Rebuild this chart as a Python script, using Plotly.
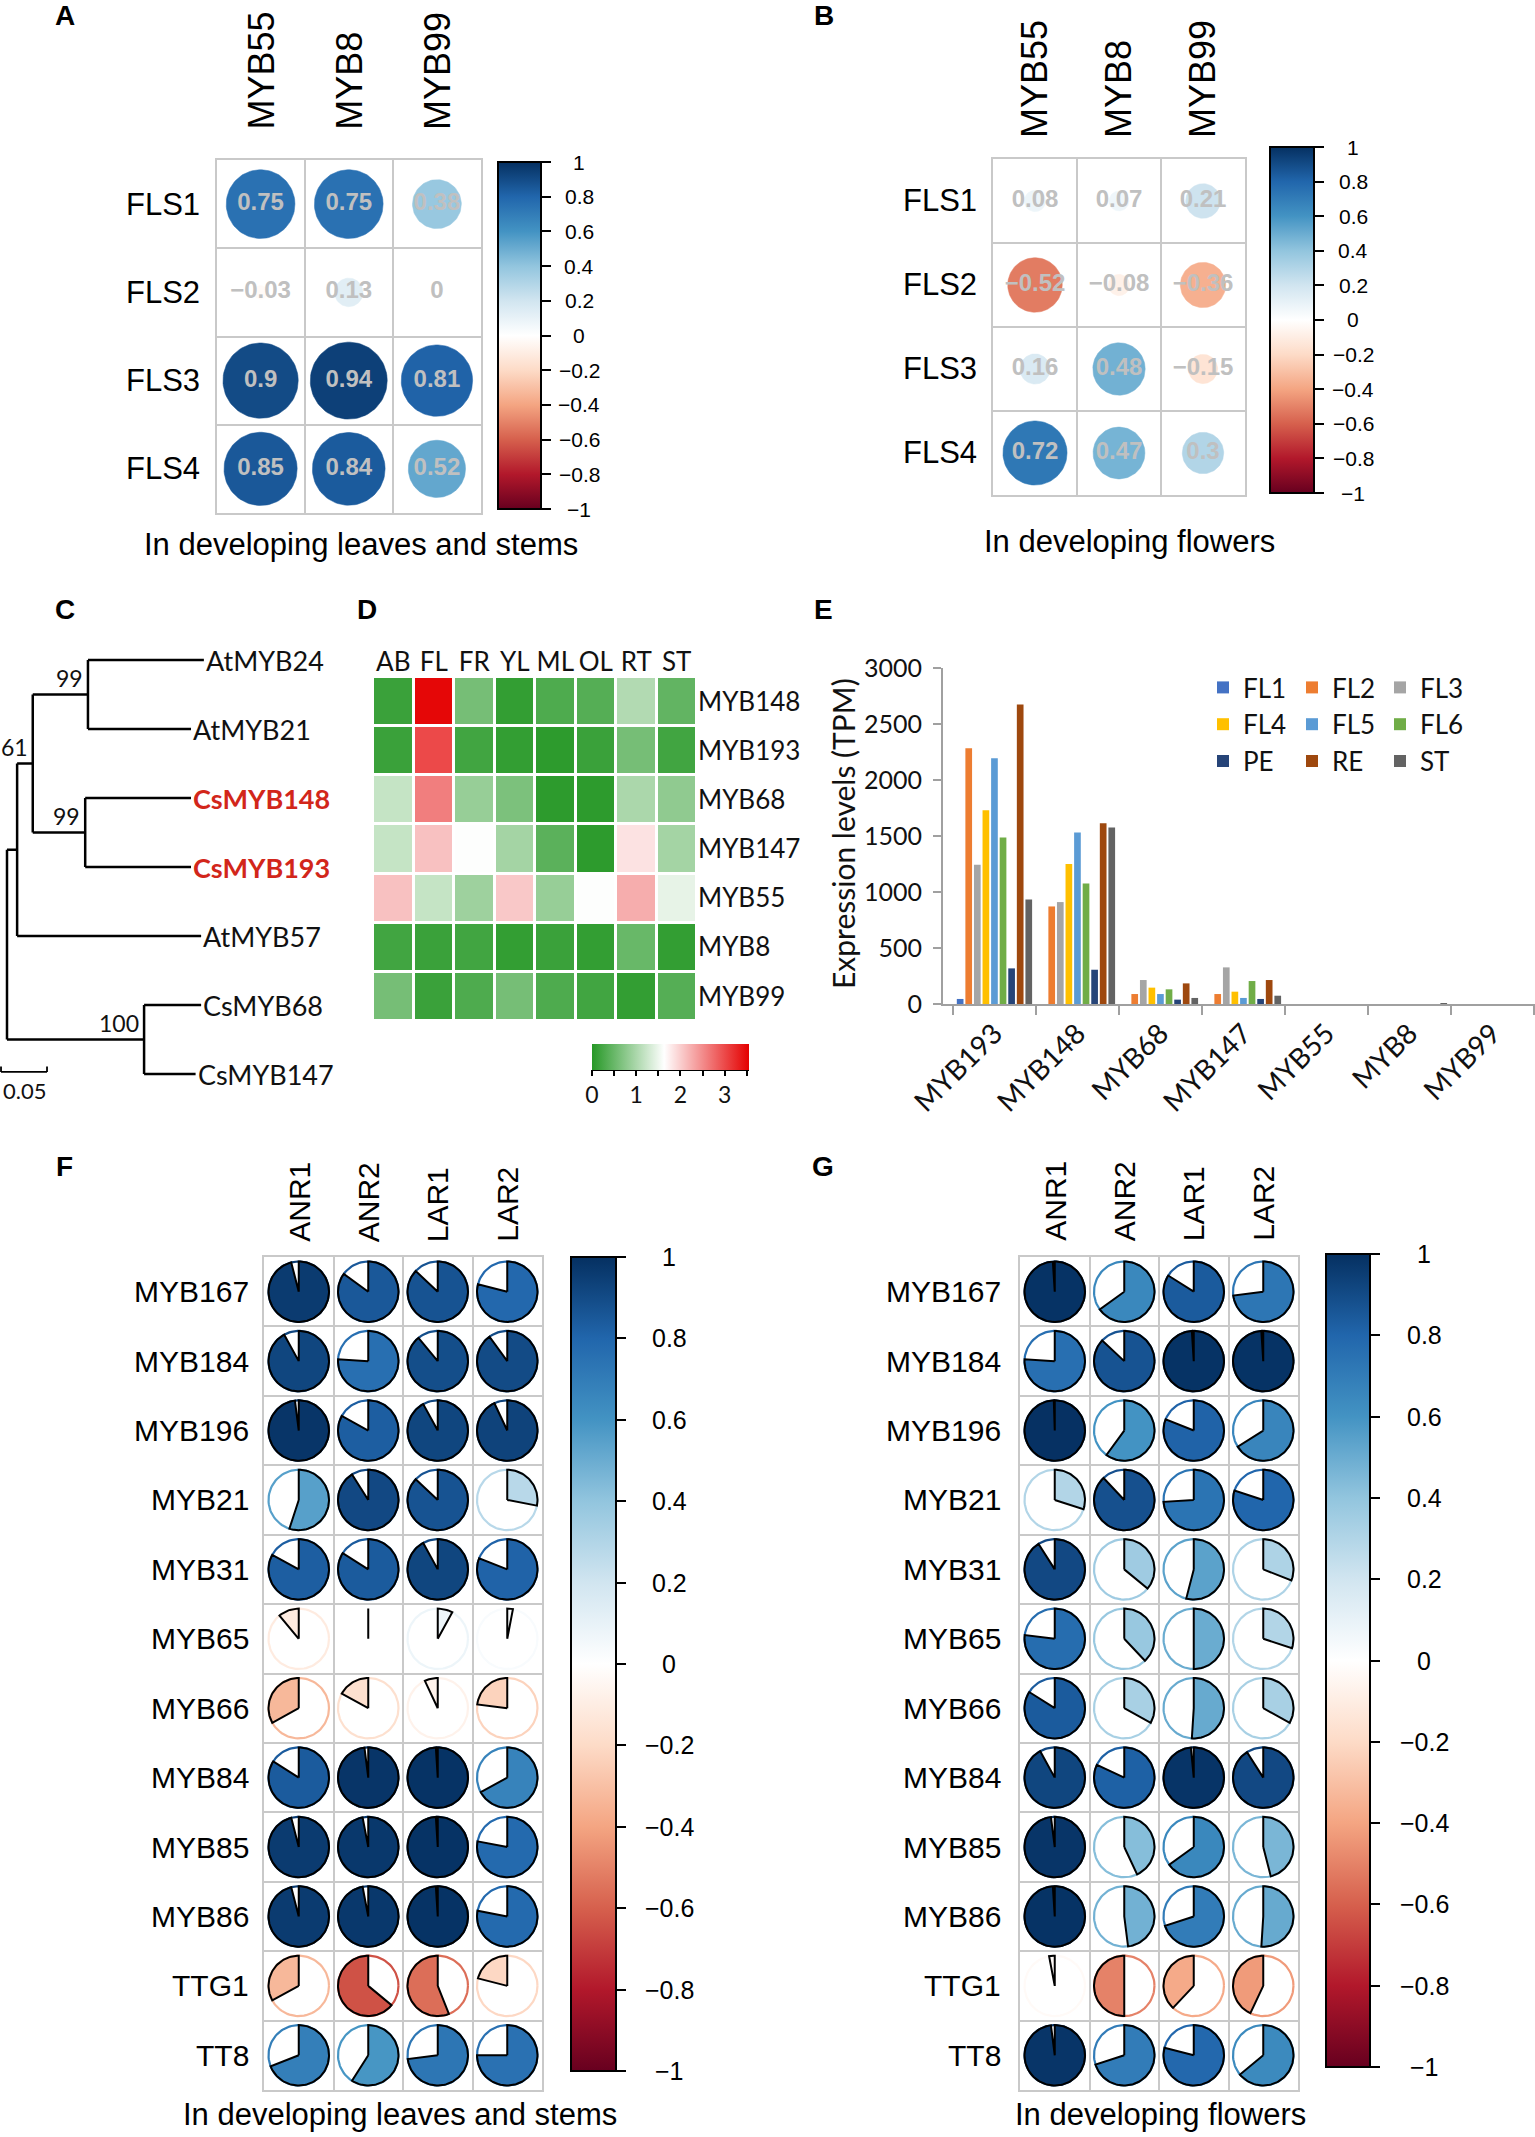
import numpy as np
import plotly.graph_objects as go

W, H = 1535, 2137

# ======================= DATA =======================
# Panels A / B : FLS vs MYB correlations
fls_genes = ["FLS1", "FLS2", "FLS3", "FLS4"]
myb_fls = ["MYB55", "MYB8", "MYB99"]
corr_leaf_fls = [
    [0.75, 0.75, 0.38],
    [-0.03, 0.13, 0.00],
    [0.90, 0.94, 0.81],
    [0.85, 0.84, 0.52],
]
corr_flower_fls = [
    [0.08, 0.07, 0.21],
    [-0.52, -0.08, -0.36],
    [0.16, 0.48, -0.15],
    [0.72, 0.47, 0.30],
]
title_leaf = "In developing leaves and stems"
title_flower = "In developing flowers"
corr_ticks = [-1, -0.8, -0.6, -0.4, -0.2, 0, 0.2, 0.4, 0.6, 0.8, 1]

# Panel C : phylogenetic tree
leaf_names = ["AtMYB24", "AtMYB21", "CsMYB148", "CsMYB193", "AtMYB57", "CsMYB68", "CsMYB147"]
leaf_depth = [0.214, 0.200, 0.200, 0.200, 0.211, 0.211, 0.205]
node_names = ["n3", "n4", "n2", "n1", "n5", "root"]
node_depth = [0.088, 0.085, 0.028, 0.011, 0.149, 0.0]
node_children = [["AtMYB24", "AtMYB21"], ["CsMYB148", "CsMYB193"], ["n3", "n4"],
                 ["n2", "AtMYB57"], ["CsMYB68", "CsMYB147"], ["n1", "n5"]]
node_support = ["99", "99", "61", "", "100", ""]
scale_bar_len = 0.05
scale_bar_label = "0.05"

# Panel D : expression heatmap
tissues = ["AB", "FL", "FR", "YL", "ML", "OL", "RT", "ST"]
genes_D = ["MYB148", "MYB193", "MYB68", "MYB147", "MYB55", "MYB8", "MYB99"]
expr_D = [
    [0.15, 3.50, 0.60, 0.10, 0.30, 0.35, 1.05, 0.45],
    [0.15, 3.00, 0.20, 0.10, 0.05, 0.15, 0.60, 0.20],
    [1.20, 2.60, 0.85, 0.65, 0.05, 0.05, 1.00, 0.80],
    [1.20, 2.10, 1.62, 0.95, 0.40, 0.05, 1.85, 0.95],
    [2.10, 1.20, 0.90, 2.05, 0.85, 1.62, 2.25, 1.45],
    [0.20, 0.15, 0.20, 0.10, 0.15, 0.10, 0.50, 0.10],
    [0.60, 0.15, 0.30, 0.60, 0.30, 0.20, 0.10, 0.35],
]
expr_ticks = [0, 0.5, 1, 1.5, 2, 2.5, 3, 3.5]
expr_tick_text = ["0", "", "1", "", "2", "", "3", ""]

# Panel E : expression bars (TPM)
bar_genes = ["MYB193", "MYB148", "MYB68", "MYB147", "MYB55", "MYB8", "MYB99"]
series_names = ["FL1", "FL2", "FL3", "FL4", "FL5", "FL6", "PE", "RE", "ST"]
tpm_FL1 = [45, 0, 0, 0, 0, 0, 0]
tpm_FL2 = [2283, 871, 89, 89, 0, 0, 0]
tpm_FL3 = [1243, 910, 214, 327, 0, 0, 0]
tpm_FL4 = [1730, 1249, 146, 110, 0, 0, 0]
tpm_FL5 = [2194, 1531, 89, 54, 0, 0, 0]
tpm_FL6 = [1486, 1076, 131, 205, 0, 0, 0]
tpm_PE = [318, 306, 39, 45, 0, 0, 0]
tpm_RE = [2675, 1614, 184, 214, 0, 0, 0]
tpm_ST = [933, 1575, 54, 74, 0, 8, 0]
tpm_series = [tpm_FL1, tpm_FL2, tpm_FL3, tpm_FL4, tpm_FL5, tpm_FL6, tpm_PE, tpm_RE, tpm_ST]
tpm_ticks = [0, 500, 1000, 1500, 2000, 2500, 3000]
tpm_title = "Expression levels (TPM)"

# Panels F / G : PA genes vs regulators
pa_genes = ["ANR1", "ANR2", "LAR1", "LAR2"]
reg_genes = ["MYB167", "MYB184", "MYB196", "MYB21", "MYB31", "MYB65",
             "MYB66", "MYB84", "MYB85", "MYB86", "TTG1", "TT8"]
corr_leaf_pa = [
    [0.96, 0.85, 0.87, 0.79],
    [0.92, 0.76, 0.89, 0.90],
    [0.98, 0.83, 0.92, 0.93],
    [0.55, 0.91, 0.87, 0.28],
    [0.83, 0.84, 0.92, 0.81],
    [-0.11, 0.00, 0.08, 0.03],
    [-0.33, -0.17, -0.07, -0.23],
    [0.84, 0.98, 0.99, 0.67],
    [0.96, 0.97, 0.99, 0.78],
    [0.96, 0.97, 0.99, 0.78],
    [-0.33, -0.64, -0.56, -0.21],
    [0.69, 0.59, 0.73, 0.75],
]
corr_flower_pa = [
    [0.99, 0.65, 0.84, 0.73],
    [0.76, 0.87, 0.99, 0.99],
    [0.995, 0.60, 0.81, 0.66],
    [0.30, 0.88, 0.74, 0.80],
    [0.91, 0.36, 0.54, 0.31],
    [0.77, 0.38, 0.50, 0.30],
    [0.84, 0.33, 0.51, 0.33],
    [0.92, 0.82, 0.985, 0.91],
    [0.98, 0.43, 0.65, 0.46],
    [0.99, 0.48, 0.70, 0.51],
    [-0.03, -0.50, -0.38, -0.43],
    [0.98, 0.70, 0.79, 0.64],
]

# ======================= STYLE =======================
ARIAL = "Liberation Sans, Arial, sans-serif"
CAL = "Lato, Carlito, Calibri, sans-serif"
GRID = "#c9c9c9"
RDBU = ["#67001F", "#B2182B", "#D6604D", "#F4A582", "#FDDBC7", "#FFFFFF",
        "#D1E5F0", "#92C5DE", "#4393C3", "#2166AC", "#053061"]
rdbu_scale = [[k / 10, c] for k, c in enumerate(RDBU)]
green_red = [[0, "rgb(38,152,38)"], [0.46, "rgb(255,255,255)"], [1, "rgb(228,0,0)"]]
bar_colors = ["#4472C4", "#ED7D31", "#A5A5A5", "#FFC000", "#5B9BD5",
              "#70AD47", "#264478", "#9E480E", "#636363"]
bar_legend = ["legend", "legend2", "legend3", "legend", "legend2",
              "legend3", "legend", "legend2", "legend3"]
highlight_leaves = {"CsMYB148", "CsMYB193"}


def px(x):
    return x / W


def py(y):
    return 1 - y / H


def hex2rgb(h):
    return tuple(int(h[i:i + 2], 16) for i in (1, 3, 5))


def corr_color(v):
    t = (max(-1.0, min(1.0, v)) + 1) / 2 * 10
    k = min(int(np.floor(t)), 9)
    f = t - k
    a, b = hex2rgb(RDBU[k]), hex2rgb(RDBU[k + 1])
    c = [round(a[i] + (b[i] - a[i]) * f) for i in range(3)]
    return f"rgb({c[0]},{c[1]},{c[2]})"


def fmt(v):
    return f"{v:g}".replace("-", "\u2212")


fig = go.Figure()
ann = []
theta = np.linspace(0, 2 * np.pi, 91)


def add_text(x, y, s, size, family=ARIAL, color="black", xanchor="center",
             yanchor="middle", xref="paper", yref="paper", angle=0):
    ann.append(dict(x=x, y=y, text=s, xref=xref, yref=yref, xanchor=xanchor,
                    yanchor=yanchor, showarrow=False, textangle=angle,
                    font=dict(family=family, size=size, color=color)))


def corr_axes(n_cols, n_rows, x0, x1, y0, y1, xa_anchor, ya_anchor):
    common = dict(showgrid=True, gridcolor=GRID, gridwidth=2, showticklabels=False,
                  ticks="", zeroline=False, showline=True, mirror=True,
                  linecolor=GRID, linewidth=2, fixedrange=True)
    xa = dict(domain=[px(x0), px(x1)], range=[0.5, n_cols + 0.5],
              tickvals=[k + 0.5 for k in range(n_cols + 1)], anchor=xa_anchor, **common)
    ya = dict(domain=[py(y1), py(y0)], range=[n_rows + 0.5, 0.5],
              tickvals=[k + 0.5 for k in range(n_rows + 1)], anchor=ya_anchor, **common)
    return xa, ya


def vcolorbar(x0, x1, y0, y1):
    return dict(x=px(x0), xanchor="left", y=py(y1), yanchor="bottom",
                len=(y1 - y0) / H, lenmode="fraction", thickness=x1 - x0,
                thicknessmode="pixels", outlinewidth=2, outlinecolor="black",
                ticks="outside", ticklen=9, tickwidth=1.5, tickcolor="black",
                tickvals=corr_ticks, showticklabels=False, xpad=0, ypad=0)


def colorbar_labels(xc, y_top, y_bot, size):
    for v in corr_ticks:
        y = y_bot - (v + 1) / 2 * (y_bot - y_top)
        add_text(px(xc), py(y), fmt(v), size)


def add_circles(vals, xa, ya):
    tx, ty, tt = [], [], []
    for i, row in enumerate(vals):
        for j, v in enumerate(row):
            r = 0.45 * np.sqrt(abs(v))
            col = corr_color(v)
            if r > 0:
                fig.add_trace(go.Scatter(
                    x=(j + 1) + r * np.cos(theta), y=(i + 1) + r * np.sin(theta),
                    mode="lines", fill="toself", fillcolor=col,
                    line=dict(width=0.5, color=col), xaxis=xa, yaxis=ya,
                    hoverinfo="skip", showlegend=False))
            tx.append(j + 1)
            ty.append(i + 1)
            tt.append(fmt(v))
    fig.add_trace(go.Scatter(x=tx, y=ty, text=tt, mode="text", xaxis=xa, yaxis=ya,
                             textfont=dict(family=ARIAL, size=24, color="rgb(192,192,192)",
                                           weight="bold"),
                             hoverinfo="skip", showlegend=False))


def add_pies(vals, xa, ya):
    R = 0.435
    for i, row in enumerate(vals):
        for j, v in enumerate(row):
            cx, cy = j + 1, i + 1
            col = corr_color(v)
            fig.add_trace(go.Scatter(
                x=cx + R * np.cos(theta), y=cy + R * np.sin(theta), mode="lines",
                line=dict(color=col, width=2.2), xaxis=xa, yaxis=ya,
                hoverinfo="skip", showlegend=False))
            n = int(abs(v) * 120) + 2
            ang = np.linspace(0, 2 * np.pi * v, n)
            xs = np.concatenate([[cx], cx + R * np.sin(ang), [cx]])
            ys = np.concatenate([[cy], cy - R * np.cos(ang), [cy]])
            fig.add_trace(go.Scatter(
                x=xs, y=ys, mode="lines", fill="toself", fillcolor=col,
                line=dict(color="black", width=2), xaxis=xa, yaxis=ya,
                hoverinfo="skip", showlegend=False))


def dummy_scale(xa, ya, cax):
    fig.add_trace(go.Scatter(x=[1], y=[1], mode="markers", xaxis=xa, yaxis=ya,
                             marker=dict(color=[0], coloraxis=cax, size=1, opacity=0),
                             hoverinfo="skip", showlegend=False))


def corr_labels(cols, rows, xa, ya, x_right, y_bottom, col_size, row_size):
    for j, c in enumerate(cols):
        add_text(j + 1, py(y_bottom), c, col_size, xref=xa, yanchor="bottom", angle=-90)
    for i, r in enumerate(rows):
        add_text(px(x_right), i + 1, r, row_size, xanchor="right", yref=ya)


# ======================= PANEL A =======================
xA, yA = corr_axes(3, 4, 216.5, 481, 160, 513, "y", "x")
add_circles(corr_leaf_fls, "x", "y")
dummy_scale("x", "y", "coloraxis")
corr_labels(myb_fls, fls_genes, "x", "y", 202, 132, 36, 31)
colorbar_labels(579, 162, 509, 21)
add_text(px(361), py(545), title_leaf, 31)

# ======================= PANEL B =======================
xB, yB = corr_axes(3, 4, 993, 1245, 159, 495, "y2", "x2")
add_circles(corr_flower_fls, "x2", "y2")
dummy_scale("x2", "y2", "coloraxis2")
corr_labels(myb_fls, fls_genes, "x2", "y2", 979, 140, 36, 31)
colorbar_labels(1353, 147, 493, 21)
add_text(px(1129), py(541), title_flower, 31)

# ======================= PANEL C (tree) =======================
xpos = dict(zip(leaf_names, leaf_depth))
ypos = {n: i for i, n in enumerate(leaf_names)}
for name, d, ch in zip(node_names, node_depth, node_children):
    xpos[name] = d
    ypos[name] = float(np.mean([ypos[c] for c in ch]))
tx, ty = [], []
for name, ch in zip(node_names, node_children):
    ys = [ypos[c] for c in ch]
    tx += [xpos[name], xpos[name], None]
    ty += [min(ys), max(ys), None]
    for c in ch:
        tx += [xpos[name], xpos[c], None]
        ty += [ypos[c], ypos[c], None]
fig.add_trace(go.Scatter(x=tx, y=ty, mode="lines", line=dict(color="black", width=2.5),
                         xaxis="x3", yaxis="y3", hoverinfo="skip", showlegend=False))
for n in leaf_names:
    hl = n in highlight_leaves
    label = f"<b>{n}</b>" if hl else n
    add_text(xpos[n], ypos[n], label, 27, family=CAL,
             color="#d2261a" if hl else "#111", xanchor="left", xref="x3", yref="y3")
for name, sup in zip(node_names, node_support):
    if sup:
        ann.append(dict(x=xpos[name], y=ypos[name], text=sup, xref="x3", yref="y3",
                        xanchor="right", yanchor="bottom", xshift=-3, yshift=1,
                        showarrow=False, font=dict(family=CAL, size=23, color="#111")))
sb_x0, sb_y = -0.0065, 5.97
fig.add_trace(go.Scatter(
    x=[sb_x0, sb_x0, None, sb_x0, sb_x0 + scale_bar_len, None, sb_x0 + scale_bar_len, sb_x0 + scale_bar_len],
    y=[sb_y - 0.08, sb_y, None, sb_y, sb_y, None, sb_y - 0.08, sb_y],
    mode="lines", line=dict(color="black", width=1.8), xaxis="x3", yaxis="y3",
    hoverinfo="skip", showlegend=False))
add_text(sb_x0, sb_y + 0.27, scale_bar_label, 22, family=CAL, xanchor="left",
         xref="x3", yref="y3", color="#111")

# ======================= PANEL D (heatmap) =======================
fig.add_trace(go.Heatmap(z=expr_D, x=tissues, y=genes_D, coloraxis="coloraxis5",
                         xgap=3, ygap=3, xaxis="x4", yaxis="y4", hoverinfo="skip"))

# ======================= PANEL E (bars) =======================
for name, vals, col, lg in zip(series_names, tpm_series, bar_colors, bar_legend):
    fig.add_trace(go.Bar(x=bar_genes, y=vals, name=name, marker=dict(color=col, line=dict(width=0)),
                         xaxis="x5", yaxis="y5", legend=lg, hoverinfo="skip"))
add_text(px(843), py(834), tpm_title, 30, family=CAL, angle=-90, color="#111")

# ======================= PANEL F =======================
xF, yF = corr_axes(4, 12, 264, 542, 1257, 2090, "y6", "x6")
add_pies(corr_leaf_pa, "x6", "y6")
dummy_scale("x6", "y6", "coloraxis3")
corr_labels(pa_genes, reg_genes, "x6", "y6", 251, 1244, 30, 30)
colorbar_labels(669, 1257, 2071, 25)
add_text(px(400), py(2114), title_leaf, 31)

# ======================= PANEL G =======================
xG, yG = corr_axes(4, 12, 1020, 1298, 1257, 2090, "y7", "x7")
add_pies(corr_flower_pa, "x7", "y7")
dummy_scale("x7", "y7", "coloraxis4")
corr_labels(pa_genes, reg_genes, "x7", "y7", 1003, 1243, 30, 30)
colorbar_labels(1424, 1254, 2067, 25)
add_text(px(1160), py(2114), title_flower, 31)

# ======================= PANEL LETTERS =======================
for letter, (lx, ly) in zip("ABCDEFG", [(65, 16), (824, 16), (65, 609), (367, 609),
                                        (823, 609), (64, 1166), (823, 1166)]):
    add_text(px(lx), py(ly), f"<b>{letter}</b>", 28)

# ======================= LAYOUT =======================
hidden = dict(visible=False, fixedrange=True)
leg = dict(font=dict(family=CAL, size=26, color="#111"), bgcolor="rgba(0,0,0,0)",
           borderwidth=0, xanchor="left", yanchor="top", y=py(664),
           tracegroupgap=0, itemwidth=30)

fig.update_layout(
    width=W, height=H, autosize=False,
    margin=dict(l=0, r=0, t=0, b=0, pad=0, autoexpand=False),
    paper_bgcolor="white", plot_bgcolor="white", showlegend=True,
    bargap=0.07, bargroupgap=0.22,
    xaxis=xA, yaxis=yA, xaxis2=xB, yaxis2=yB,
    xaxis6=xF, yaxis6=yF, xaxis7=xG, yaxis7=yG,
    xaxis3=dict(domain=[0, px(240)], range=[-7 / 920, 233 / 920], anchor="y3", **hidden),
    yaxis3=dict(domain=[py(1108.5), py(625.5)], range=[6.5, -0.5], anchor="x3", **hidden),
    xaxis4=dict(domain=[px(373), px(697)], anchor="y4", side="top", ticks="",
                showgrid=False, zeroline=False, showline=False, fixedrange=True,
                tickfont=dict(family=CAL, size=26, color="#111")),
    yaxis4=dict(domain=[py(1021), py(677)], anchor="x4", side="right", ticks="",
                autorange="reversed", showgrid=False, zeroline=False, showline=False,
                fixedrange=True, tickfont=dict(family=CAL, size=26, color="#111")),
    xaxis5=dict(domain=[px(943), px(1535)], anchor="y5", range=[-0.62, 6.513],
                tickson="boundaries", ticks="outside", ticklen=9, tickcolor="#a0a0a0",
                tickwidth=1.5, showline=True, linecolor="#a0a0a0", linewidth=2,
                showgrid=False, zeroline=False, tickangle=-45, fixedrange=True,
                tickfont=dict(family=CAL, size=28, color="#111")),
    yaxis5=dict(domain=[py(1004), py(668)], anchor="x5", range=[0, 3000],
                tickvals=tpm_ticks, ticks="outside", ticklen=8, tickcolor="#a0a0a0",
                tickwidth=1.5, showline=True, linecolor="#a0a0a0", linewidth=2,
                showgrid=False, zeroline=False, fixedrange=True, ticklabelstandoff=6,
                tickfont=dict(family=CAL, size=25, color="#111")),
    coloraxis=dict(colorscale=rdbu_scale, cmin=-1, cmax=1,
                   colorbar=vcolorbar(498, 541, 162, 509)),
    coloraxis2=dict(colorscale=rdbu_scale, cmin=-1, cmax=1,
                    colorbar=vcolorbar(1270, 1314, 147, 493)),
    coloraxis3=dict(colorscale=rdbu_scale, cmin=-1, cmax=1,
                    colorbar=vcolorbar(571, 616, 1257, 2071)),
    coloraxis4=dict(colorscale=rdbu_scale, cmin=-1, cmax=1,
                    colorbar=vcolorbar(1326, 1370, 1254, 2067)),
    coloraxis5=dict(colorscale=green_red, cmin=0, cmax=3.55,
                    colorbar=dict(orientation="h", x=px(592), xanchor="left",
                                  len=157 / W, lenmode="fraction", y=py(1044),
                                  yanchor="top", thickness=26, outlinewidth=0,
                                  ticks="outside", ticklen=6, tickwidth=1.5,
                                  tickcolor="black", tickvals=expr_ticks,
                                  ticktext=expr_tick_text, xpad=0, ypad=0,
                                  tickfont=dict(family=CAL, size=23, color="#111"))),
    legend=dict(leg, x=px(1203)),
    legend2=dict(leg, x=px(1292)),
    legend3=dict(leg, x=px(1380)),
    annotations=ann,
    shapes=[dict(type="line", xref="paper", yref="paper", x0=px(592), x1=px(749),
                 y0=py(1070), y1=py(1070), line=dict(color="black", width=2))],
)

fig.write_html("out.html", config={"displayModeBar": False},
               post_script="document.body.style.margin='0';document.body.style.overflow='hidden';")
